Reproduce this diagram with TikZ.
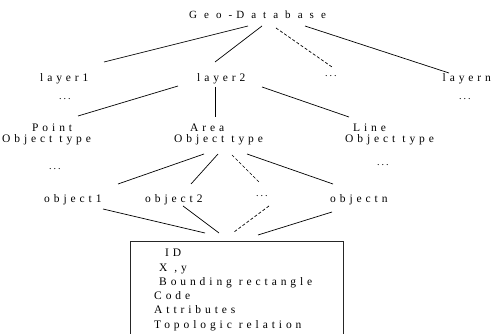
\documentclass[tikz,border=0pt]{standalone}
\usepackage{fontspec}
\setmainfont{Liberation Serif}
\newfontfamily\spacedfont[LetterSpace=34]{Liberation Serif}
\newfontfamily\widefont[LetterSpace=64]{Liberation Serif}
\newfontfamily\dotfont[LetterSpace=20]{Liberation Serif}
\newcommand{\wsp}{\hspace{7pt}}
\usetikzlibrary{calc}
\begin{document}
\begin{tikzpicture}[x=1pt,y=-1pt,
  lbl/.style={anchor=base west,inner sep=0pt,font=\spacedfont\fontsize{11.5}{12}\selectfont},
  titlelbl/.style={anchor=base west,inner sep=0pt,font=\widefont\fontsize{11}{12}\selectfont},
  dotlbl/.style={anchor=base west,inner sep=0pt,font=\dotfont\fontsize{10}{12}\selectfont},
  conn/.style={line width=0.7pt},
  dconn/.style={line width=0.7pt,dash pattern=on 3pt off 2pt},
  recbox/.style={draw=black!85,line width=0.9pt,anchor=north west,inner sep=0pt,minimum width=213pt,minimum height=104pt}
]
\useasboundingbox (0,0) rectangle (491,334);
% top
\node[titlelbl] (geo) at (189,19) {Geo-\hspace{4pt}Database};
% layers
\node[lbl] (l1) at (40,82) {layer1};
\node[dotlbl] (l1d) at (59,100) {...};
\node[lbl] (l2) at (197,82) {layer2};
\node[dotlbl] (ld) at (325,77) {...};
\node[lbl] (ln) at (442.5,82) {layern};
\node[dotlbl] (lnd) at (459,100) {...};
% object types
\node[lbl] (pA) at (32,132) {Point};
\node[lbl] (pB) at (2,143) {Object\wsp type};
\node[dotlbl] (pd) at (49,170) {...};
\node[lbl] (aA) at (190,132) {Area};
\node[lbl] (aB) at (174,143) {Object\wsp type};
\node[lbl] (nA) at (353,132) {Line};
\node[lbl] (nB) at (345,143) {Object\wsp type};
\node[dotlbl] (nd) at (377,166) {...};
% objects
\node[lbl] (o1) at (44,203) {object1};
\node[lbl] (o2) at (145,203) {object2};
\node[dotlbl] (od) at (256,197) {...};
\node[lbl] (on) at (330,203) {objectn};
% record box
\node[recbox] (rec) at (130,241) {};
\node[lbl] (f1) at (165,257) {ID};
\node[lbl] (f2) at (159,271.5) {X ,y};
\node[lbl] (f3) at (159,286) {Bounding\wsp rectangle};
\node[lbl] (f4) at (154,300) {Code};
\node[lbl] (f5) at (154,314) {Attributes};
\node[lbl] (f6) at (154,328.5) {Topologic\wsp relation};
% connectors level 1
\draw[conn] ($(geo.base west)+(59,7)$) -- ($(l1.base west)+(64,-20)$);
\draw[conn] ($(geo.base west)+(73,7)$) -- ($(l2.base west)+(18,-20)$);
\draw[dconn] ($(geo.base west)+(87,9)$) -- ($(ld.base west)+(7,-10)$);
\draw[conn] ($(geo.base west)+(116,7)$) -- ($(ln.base west)+(6.5,-9)$);
% level 2
\draw[conn] ($(l2.base west)+(-19,4)$) -- ($(pA.base west)+(46,-16)$);
\draw[conn] ($(l2.base west)+(18,5)$) -- ($(aA.base west)+(25,-15)$);
\draw[conn] ($(l2.base west)+(65,5)$) -- ($(nA.base west)+(-4,-15)$);
% level 3
\draw[conn] ($(aB.base west)+(30,11)$) -- ($(o1.base west)+(74,-19)$);
\draw[conn] ($(aB.base west)+(44,11)$) -- ($(o2.base west)+(46,-19)$);
\draw[dconn] ($(aB.base west)+(58,12)$) -- ($(od.base west)+(4,-14)$);
\draw[conn] ($(aB.base west)+(73,11)$) -- ($(on.base west)+(3,-19)$);
% level 4
\draw[conn] ($(o1.base west)+(59,6)$) -- ($(rec.north west)+(75,-8)$);
\draw[conn] ($(o2.base west)+(38,3)$) -- ($(rec.north west)+(89,-8)$);
\draw[dconn] ($(od.base west)+(13,9)$) -- ($(rec.north west)+(104,-9)$);
\draw[conn] ($(on.base west)+(2,9)$) -- ($(rec.north west)+(128,-6)$);
\end{tikzpicture}
\end{document}
